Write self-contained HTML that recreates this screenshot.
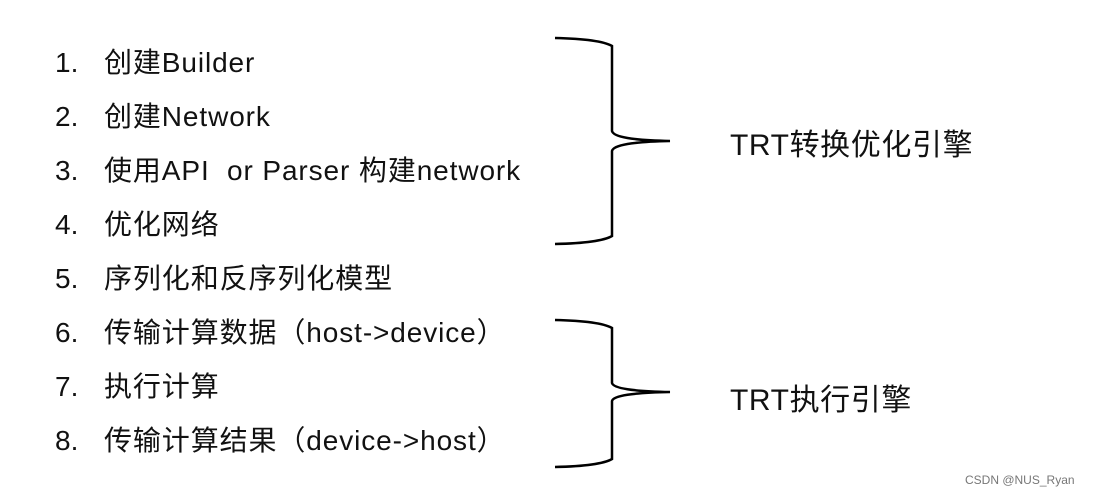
<!DOCTYPE html>
<html><head><meta charset="utf-8"><style>
body{margin:0;width:1094px;height:498px;background:#fff;position:relative;overflow:hidden;font-family:"Liberation Sans","Noto Sans CJK SC",sans-serif;color:#111}
.l{position:absolute;font-size:28px;line-height:30px;white-space:nowrap;letter-spacing:0.9px}
.n{left:55px;letter-spacing:0}.t{left:104px}
.r{position:absolute;left:730px;font-size:30px;line-height:32px;white-space:nowrap;letter-spacing:0.6px}
.w{position:absolute;left:965px;top:473px;font-size:12px;color:#777}
</style></head><body>
<div class="l n" style="top:48px">1.</div><div class="l t" style="top:48px">创建Builder</div>
<div class="l n" style="top:102px">2.</div><div class="l t" style="top:102px">创建Network</div>
<div class="l n" style="top:156px">3.</div><div class="l t" style="top:156px">使用API&nbsp; or Parser 构建network</div>
<div class="l n" style="top:210px">4.</div><div class="l t" style="top:210px">优化网络</div>
<div class="l n" style="top:264px">5.</div><div class="l t" style="top:264px">序列化和反序列化模型</div>
<div class="l n" style="top:318px">6.</div><div class="l t" style="top:318px">传输计算数据（host-&gt;device）</div>
<div class="l n" style="top:372px">7.</div><div class="l t" style="top:372px">执行计算</div>
<div class="l n" style="top:426px">8.</div><div class="l t" style="top:426px">传输计算结果（device-&gt;host）</div>
<svg width="1094" height="498" style="position:absolute;left:0;top:0" fill="none" stroke="#000" stroke-width="2.5">
<path d="M555 38 Q600 39 612 46 L612 131 Q614 140 670 141 Q614 142 612 151 L612 236 Q600 243 555 244"/>
<path d="M555 320 Q600 321 612 328 L612 383 Q614 391 670 392 Q614 393 612 401 L612 459 Q600 466 555 467"/>
</svg>
<div class="r" style="top:130px">TRT转换优化引擎</div>
<div class="r" style="top:385px">TRT执行引擎</div>
<div class="w">CSDN @NUS_Ryan</div>
</body></html>
